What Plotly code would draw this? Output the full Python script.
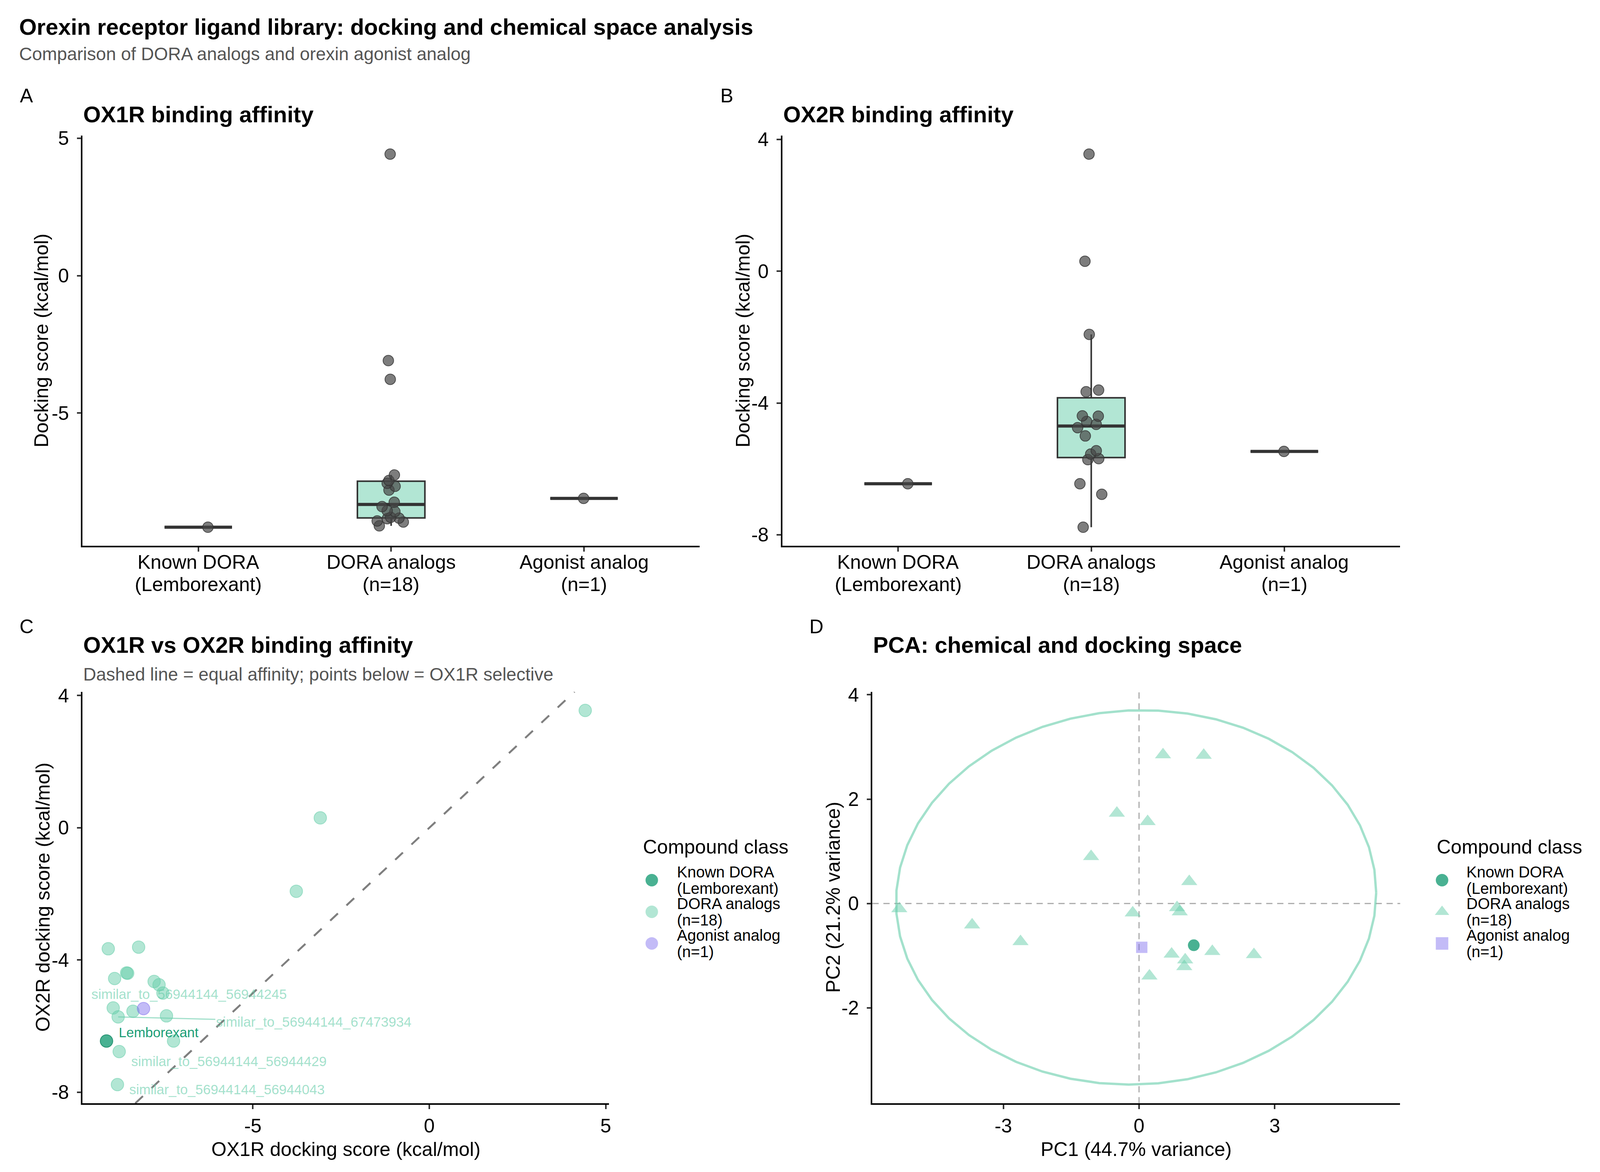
import numpy as np
import plotly.graph_objects as go

# the browser viewport is 4096 x 3000 (body margin 8px); lay out against the
# 4200 x 3000 reference and map into that space
REF_W, REF_H = 4200, 3000
VIEW_W, VIEW_H = 4096, 3000
OFF = 8
W, H = VIEW_W - OFF, VIEW_H - OFF
SX = VIEW_W / REF_W

# ---- data ----
known_name = "Lemborexant"
known_ox1r = [-9.15]
known_ox2r = [-6.45]
agonist_ox1r = [-8.10]
agonist_ox2r = [-5.47]

dora_ox1r = [-9.10, -8.24, -8.55, -8.58, -8.92, -7.80, -7.66, -7.55, -8.96,
             -8.40, -8.82, -7.45, -7.25, -8.79, -8.84, 4.42, -3.09, -3.77]
dora_ox2r = [-3.66, -3.61, -4.40, -4.39, -4.56, -4.65, -4.75, -5.00, -5.45,
             -5.55, -5.72, -5.69, -6.45, -6.77, -7.77, 3.55, 0.30, -1.92]

dora_pc1 = [0.53, 1.43, -0.49, 0.19, -1.06, 1.11, -5.30, 0.84, 0.90,
            -0.14, -3.69, -2.62, 0.72, 1.62, 2.54, 1.02, 1.00, 0.23]
dora_pc2 = [2.85, 2.84, 1.73, 1.57, 0.90, 0.42, -0.10, -0.08, -0.16,
            -0.18, -0.41, -0.73, -0.97, -0.92, -0.98, -1.08, -1.21, -1.39]
known_pc1, known_pc2 = [1.21], [-0.80]
agonist_pc1, agonist_pc2 = [0.06], [-0.84]

# labelled analogs (index into the dora arrays)
dora_labels = {
    "similar_to_56944144_56944245": 7,
    "similar_to_56944144_67473934": 10,
    "similar_to_56944144_56944429": 13,
    "similar_to_56944144_56944043": 14,
}

classes = ["Known DORA<br>(Lemborexant)",
           f"DORA analogs<br>(n={len(dora_ox1r)})",
           f"Agonist analog<br>(n={len(agonist_ox1r)})"]

# ---- styling ----
FONT = "Liberation Sans"
known_col = "rgba(27,158,119,0.8)"
known_edge = "rgba(27,140,105,0.9)"
dora_col = "rgba(102,205,170,0.5)"
dora_edge = "rgba(102,205,170,0.55)"
agon_col = "rgba(123,104,238,0.45)"
agon_edge = "rgba(123,104,238,0.5)"
box_line = "#333333"
grey_txt = "#555555"


def px_x(p):
    return (p * SX - OFF) / W


def px_y(p):
    return 1 - (p - OFF) / H


def pad(vals, f=0.05):
    lo, hi = min(vals), max(vals)
    d = (hi - lo) * f
    return [lo - d, hi + d]


def box_stats(v):
    v = np.asarray(v, dtype=float)
    q1, med, q3 = np.percentile(v, [25, 50, 75])
    iqr = q3 - q1
    lo = v[v >= q1 - 1.5 * iqr].min()
    hi = v[v <= q3 + 1.5 * iqr].max()
    return q1, med, q3, lo, hi


def ticks(rng, step):
    start = np.ceil(rng[0] / step) * step
    vals = np.arange(start, rng[1] + 1e-9, step)
    return list(vals), [f"{v:g}" for v in vals]


fig = go.Figure()

# ---- panels A and B: boxplot + jittered points ----
for xa, ya, groups in [("x", "y", [known_ox1r, dora_ox1r, agonist_ox1r]),
                       ("x2", "y2", [known_ox2r, dora_ox2r, agonist_ox2r])]:
    st = [box_stats(g) for g in groups]
    fig.add_trace(go.Box(
        x=classes, q1=[s[0] for s in st], median=[s[1] for s in st],
        q3=[s[2] for s in st], lowerfence=[s[3] for s in st],
        upperfence=[s[4] for s in st],
        fillcolor="rgba(102,205,170,0.5)", line=dict(color=box_line, width=4),
        whiskerwidth=0, boxpoints=False, xaxis=xa, yaxis=ya,
        showlegend=False, hoverinfo="skip"))
    # thicker median bar
    fig.add_trace(go.Box(
        x=classes, q1=[s[1] for s in st], median=[s[1] for s in st],
        q3=[s[1] for s in st], lowerfence=[s[1] for s in st],
        upperfence=[s[1] for s in st],
        fillcolor="rgba(0,0,0,0)", line=dict(color=box_line, width=8),
        whiskerwidth=0, boxpoints=False, xaxis=xa, yaxis=ya,
        showlegend=False, hoverinfo="skip"))
    fig.add_trace(go.Box(
        x=[c for c, g in zip(classes, groups) for _ in g],
        y=[v for g in groups for v in g],
        boxpoints="all", jitter=0.55, pointpos=0,
        fillcolor="rgba(0,0,0,0)", line=dict(width=0, color="rgba(0,0,0,0)"),
        marker=dict(color="rgba(70,70,70,0.7)", size=27,
                    line=dict(color="rgba(50,50,50,0.8)", width=2)),
        xaxis=xa, yaxis=ya, showlegend=False, hoverinfo="skip"))

# ---- panel C: OX1R vs OX2R ----
c_sets = [(known_ox1r, known_ox2r, known_col, known_edge),
          (dora_ox1r, dora_ox2r, dora_col, dora_edge),
          (agonist_ox1r, agonist_ox2r, agon_col, agon_edge)]
for xs, ys, col, edge in c_sets:
    fig.add_trace(go.Scatter(
        x=xs, y=ys, mode="markers", showlegend=False,
        marker=dict(color=col, size=32, line=dict(color=edge, width=2)),
        xaxis="x3", yaxis="y3"))

# ---- panel D: PCA with 95% ellipse of the analogs ----
pts = np.column_stack([dora_pc1, dora_pc2])
center = pts.mean(axis=0)
cov = np.cov(pts.T)
dfd = len(pts) - 1
fq = (dfd / 2) * ((1 - 0.95) ** (-2 / dfd) - 1)
radius = np.sqrt(2 * fq)
ang = np.linspace(0, 2 * np.pi, 52)
unit = np.column_stack([np.cos(ang), np.sin(ang)])
ell = center + radius * unit @ np.linalg.cholesky(cov).T
fig.add_trace(go.Scatter(
    x=ell[:, 0], y=ell[:, 1], mode="lines",
    line=dict(color="rgba(102,205,170,0.6)", width=6),
    xaxis="x4", yaxis="y4", showlegend=False, hoverinfo="skip"))

d_sets = [(known_pc1, known_pc2, known_col, "circle", 30),
          (dora_pc1, dora_pc2, dora_col, "triangle-up", 36),
          (agonist_pc1, agonist_pc2, agon_col, "square", 29)]
for xs, ys, col, sym, sz in d_sets:
    fig.add_trace(go.Scatter(
        x=xs, y=ys, mode="markers", showlegend=False,
        marker=dict(color=col, size=sz, symbol=sym, line=dict(width=0)),
        xaxis="x4", yaxis="y4"))

# legend keys on their own small axes (one row per class)
leg_top, leg_item = 2207, 81.5
for xa, ya, syms in [("x5", "y5", ["circle", "circle", "circle"]),
                     ("x6", "y6", ["circle", "triangle-up", "square"])]:
    for i, (col, sym) in enumerate(zip([known_col, dora_col, agon_col], syms)):
        fig.add_trace(go.Scatter(
            x=[0], y=[i], mode="markers", showlegend=False, hoverinfo="skip",
            marker=dict(color=col, size=32, symbol=sym, line=dict(width=0)),
            xaxis=xa, yaxis=ya))

# ---- axes ----
ax_common = dict(showline=True, linecolor="black", linewidth=3.5,
                 ticks="outside", ticklen=11, tickwidth=3.5, tickcolor="#333333",
                 showgrid=False, zeroline=False,
                 tickfont=dict(size=50, color="black", family=FONT))

row1 = [px_y(1386), px_y(328)]
row2 = [px_y(2823), px_y(1762)]

ya_rng = pad(known_ox1r + dora_ox1r + agonist_ox1r)
yb_rng = pad(known_ox2r + dora_ox2r + agonist_ox2r)
xc_rng = pad(known_ox1r + dora_ox1r + agonist_ox1r)
yc_rng = pad(known_ox2r + dora_ox2r + agonist_ox2r)
xd_rng = pad(list(ell[:, 0]) + dora_pc1 + known_pc1 + agonist_pc1)
yd_rng = pad(list(ell[:, 1]) + dora_pc2 + known_pc2 + agonist_pc2)


def num_axis(rng, step, **kw):
    tv, tt = ticks(rng, step)
    return dict(ax_common, range=rng, tickvals=tv, ticktext=tt, **kw)


cat_axis = dict(ax_common, type="category", categoryorder="array",
                categoryarray=classes, range=[-0.6, 2.6], showticklabels=False)
hidden = dict(visible=False, showgrid=False, zeroline=False, fixedrange=True)
leg_dom_y = [px_y(leg_top + 3 * leg_item), px_y(leg_top)]

fig.update_layout(
    xaxis=dict(cat_axis, domain=[px_x(217), px_x(1839)], anchor="y"),
    yaxis=num_axis(ya_rng, 5, domain=row1, anchor="x", ticklabelstandoff=10),
    xaxis2=dict(cat_axis, domain=[px_x(2056), px_x(3680)], anchor="y2"),
    yaxis2=num_axis(yb_rng, 4, domain=row1, anchor="x2", ticklabelstandoff=10),
    xaxis3=num_axis(xc_rng, 5, domain=[px_x(217), px_x(1601)], anchor="y3"),
    yaxis3=num_axis(yc_rng, 4, domain=row2, anchor="x3", ticklabelstandoff=10),
    xaxis4=num_axis(xd_rng, 3, domain=[px_x(2293), px_x(3680)], anchor="y4"),
    yaxis4=num_axis(yd_rng, 2, domain=row2, anchor="x4", ticklabelstandoff=10),
    xaxis5=dict(hidden, domain=[px_x(1693), px_x(1733)], range=[-1, 1], anchor="y5"),
    yaxis5=dict(hidden, domain=leg_dom_y, range=[2.5, -0.5], anchor="x5"),
    xaxis6=dict(hidden, domain=[px_x(3770), px_x(3810)], range=[-1, 1], anchor="y6"),
    yaxis6=dict(hidden, domain=leg_dom_y, range=[2.5, -0.5], anchor="x6"),
    boxmode="overlay", boxgap=0.5,
)

# reference lines
lo, hi = yc_rng
fig.add_shape(type="line", xref="x3", yref="y3", x0=lo, y0=lo, x1=hi, y1=hi,
              line=dict(color="#7f7f7f", width=5, dash="27px,30px"), layer="below")
fig.add_shape(type="line", xref="x4 domain", yref="y4", x0=0, x1=1, y0=0, y1=0,
              line=dict(color="#aaaaaa", width=3, dash="16px,12px"), layer="below")
fig.add_shape(type="line", xref="x4", yref="y4 domain", x0=0, x1=0, y0=0, y1=1,
              line=dict(color="#aaaaaa", width=3, dash="16px,12px"), layer="below")

# ---- text ----
ann = []


def text(x, y, s, size, color="black", xanchor="left", angle=0, bold=False, xref="paper"):
    ann.append(dict(x=x, y=y, xref=xref, yref="paper", showarrow=False,
                    text=f"<b>{s}</b>" if bold else s, textangle=angle,
                    xanchor=xanchor, yanchor="middle",
                    font=dict(size=size, color=color, family=FONT)))


text(px_x(48), px_y(48), "Orexin receptor ligand library: docking and chemical space analysis", 58, bold=True)
text(px_x(48), px_y(118), "Comparison of DORA analogs and orexin agonist analog", 46, color=grey_txt)

text(px_x(70), px_y(226), "A", 50, xanchor="center")
text(px_x(1910), px_y(226), "B", 50, xanchor="center")
text(px_x(70), px_y(1594), "C", 50, xanchor="center")
text(px_x(2146), px_y(1594), "D", 50, xanchor="center")

text(px_x(217), px_y(273), "OX1R binding affinity", 58, bold=True)
text(px_x(2056), px_y(273), "OX2R binding affinity", 58, bold=True)
text(px_x(217), px_y(1641), "OX1R vs OX2R binding affinity", 58, bold=True)
text(px_x(217), px_y(1717), "Dashed line = equal affinity; points below = OX1R selective", 46, color=grey_txt)
text(px_x(2293), px_y(1641), "PCA: chemical and docking space", 58, bold=True)

# category labels under panels A and B, one line at a time
for xa in ["x", "x2"]:
    for c in classes:
        for j, line in enumerate(c.split("<br>")):
            text(c, px_y(1428 + 57.5 * j), line, 50, xanchor="center", xref=xa)

text(px_x(109), px_y(857), "Docking score (kcal/mol)", 50, xanchor="center", angle=-90)
text(px_x(1953), px_y(857), "Docking score (kcal/mol)", 50, xanchor="center", angle=-90)
text(px_x(113), px_y(2292), "OX2R docking score (kcal/mol)", 50, xanchor="center", angle=-90)
text(px_x(2190), px_y(2292), "PC2 (21.2% variance)", 50, xanchor="center", angle=-90)
text(px_x(909), px_y(2942), "OX1R docking score (kcal/mol)", 50, xanchor="center")
text(px_x(2986), px_y(2942), "PC1 (44.7% variance)", 50, xanchor="center")

# legends: title + two-line labels beside the keys
for title_x, text_x in [(1688, 1777), (3774, 3852)]:
    text(px_x(title_x), px_y(2162), "Compound class", 50)
    for i, c in enumerate(classes):
        yc = leg_top + leg_item * (i + 0.5)
        for j, line in enumerate(c.split("<br>")):
            text(px_x(text_x), px_y(yc - 21.5 + 43 * j), line, 40)

# repelled point labels in panel C (pixel offsets from their points)
lab_font = dict(size=35, family=FONT, color="rgba(102,205,170,0.6)")
offsets = {
    "similar_to_56944144_56944245": (69, 3, False),
    "similar_to_56944144_67473934": (513, 13, True),
    "similar_to_56944144_56944429": (288, 25, False),
    "similar_to_56944144_56944043": (287, 12, False),
}
for name, idx in dora_labels.items():
    dx, dy, arrow = offsets[name]
    a = dict(x=dora_ox1r[idx], y=dora_ox2r[idx], xref="x3", yref="y3",
             text=name, font=lab_font)
    if arrow:
        a.update(showarrow=True, ax=dx * SX, ay=dy, arrowhead=0, arrowwidth=3,
                 arrowcolor="rgba(102,205,170,0.6)", standoff=0)
    else:
        a.update(showarrow=False, xshift=dx * SX, yshift=-dy)
    ann.append(a)
ann.append(dict(x=known_ox1r[0], y=known_ox2r[0], xref="x3", yref="y3",
                text=known_name, showarrow=False, xshift=137 * SX, yshift=22,
                font=dict(size=35, family=FONT, color="#1b9e77")))

fig.update_layout(
    annotations=ann,
    width=W, height=H,
    margin=dict(l=0, r=0, t=0, b=0),
    paper_bgcolor="white", plot_bgcolor="white",
    font=dict(family=FONT, color="black"),
    showlegend=False,
)

fig.write_html("out.html")
